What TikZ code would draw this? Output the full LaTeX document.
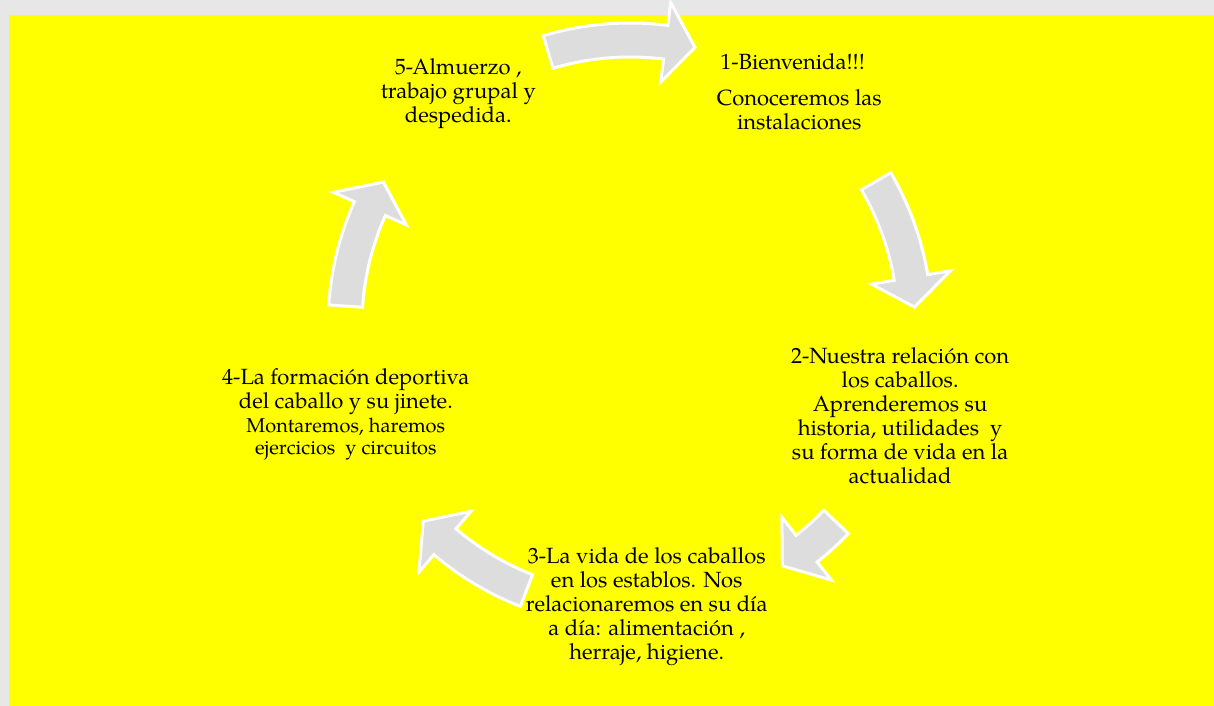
\documentclass[tikz,border=0pt]{standalone}
\usepackage{fontspec}
\setmainfont{TeX Gyre Pagella}
\definecolor{bggray}{RGB}{231,231,231}
\definecolor{panelyellow}{RGB}{255,255,0}
\definecolor{cyclegray}{RGB}{221,221,221}
% curved block arrow on the cycle: #1 tail angle, #2 tip angle
\newcommand{\cycArrow}[2]{\filldraw[cyclearrow] (#1:302) arc[start angle=#1,end angle=#2+6,radius=302] -- (#2+6:325) -- (#2:285) -- (#2+6:245) -- (#2+6:268) arc[start angle=#2+6,end angle=#1,radius=268] -- cycle;}
\newcommand{\smallline}{\fontsize{15}{16.5}\selectfont}

\begin{document}
\begin{tikzpicture}[x=0.75pt,y=0.75pt,line join=miter,
    cyclearrow/.style={fill=cyclegray,draw=white,line width=2.25pt},
    stage/.style={align=center,inner sep=0pt,font=\fontsize{16.5}{18}\selectfont}]
  % page and yellow panel
  \fill[bggray] (-630,-381) rectangle (584,325);
  \fill[panelyellow] (-621,-381) rectangle (584,310);

  % arrows round the cycle
  \cycArrow{106.7}{76.8}
  \cycArrow{30.3}{3.6}
  \cycArrow{-43.7}{-57.7}
  \cycArrow{-111.3}{-136.5}
  \cycArrow{176.2}{149.9}

  % stages
  \node[stage] (bienvenida) at (54:288) {1-Bienvenida!!!\hspace*{10pt}\\[9pt] Conoceremos las\\ instalaciones};
  \node[stage] (relacion) at (-18.6:285) {2-Nuestra relación con\\ los caballos.\\ Aprenderemos su\\ historia, utilidades\ \ y\\ su forma de vida en la\\ actualidad};
  \node[stage] (establos) at (-86.6:282) {3-La vida de los caballos\\ en los establos. Nos\\ relacionaremos en su día\\ a día: alimentación ,\\ herraje, higiene.};
  \node[stage] (formacion) at (-162.5:298) {4-La formación deportiva\\ del caballo y su jinete.\\ {\smallline Montaremos, haremos}\\[-1.5pt] {\smallline ejercicios\ \ y circuitos}};
  \node[stage] (almuerzo) at (126.6:288) {5-Almuerzo ,\\ trabajo grupal y\\ despedida.};
\end{tikzpicture}
\end{document}
